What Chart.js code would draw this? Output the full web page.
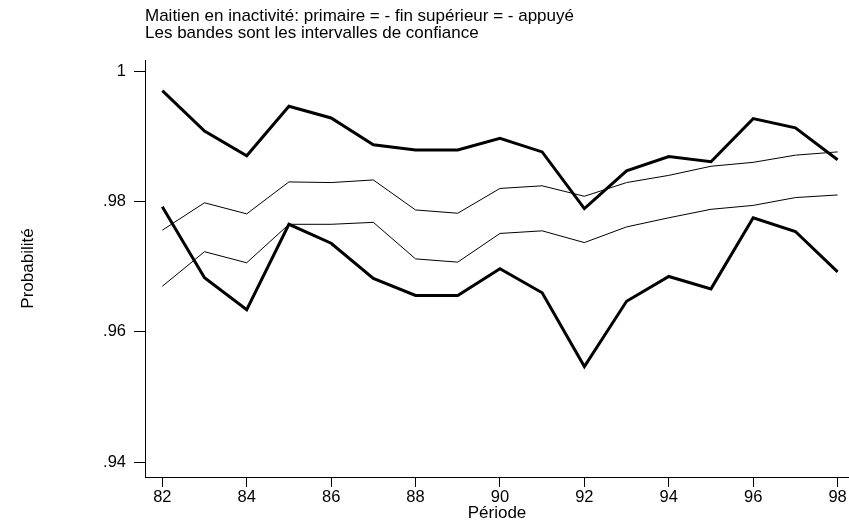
<!DOCTYPE html>
<html>
<head>
<meta charset="utf-8">
<script src="https://cdn.jsdelivr.net/npm/chart.js@4"></script>
<style>
html,body{margin:0;padding:0;background:#fff;}
#wrap{width:849px;height:524px;position:relative;}
</style>
</head>
<body>
<div id="wrap"><canvas id="c" width="849" height="524"></canvas></div>
<script>
const periods = [82,83,84,85,86,87,88,89,90,91,92,93,94,95,96,97,98];
const upperThick = [0.9970,0.9908,0.9870,0.9946,0.9928,0.9887,0.9879,0.9879,0.9897,0.9876,0.9789,0.9847,0.9869,0.9861,0.9927,0.9913,0.9864];
const upperThin  = [0.9756,0.9798,0.9781,0.9830,0.9829,0.9833,0.9787,0.9782,0.9820,0.9824,0.9808,0.9829,0.9840,0.9854,0.9860,0.9871,0.9876];
const lowerThin  = [0.9670,0.9723,0.9706,0.9765,0.9765,0.9768,0.9712,0.9707,0.9751,0.9755,0.9737,0.9761,0.9775,0.9788,0.9794,0.9806,0.9810];
const lowerThick = [0.9792,0.9683,0.9634,0.9765,0.9736,0.9682,0.9656,0.9656,0.9697,0.9660,0.9547,0.9647,0.9685,0.9666,0.9775,0.9754,0.9692];
const xTicks = [82,84,86,88,90,92,94,96,98];
const yTicks = [0.94,0.96,0.98,1];
const titleLines = ["Maitien en inactivité: primaire = - fin supérieur = - appuyé","Les bandes sont les intervalles de confiance"];

const FONT = "'Liberation Sans', Arial, Helvetica, sans-serif";
Chart.defaults.font.family = FONT;
Chart.defaults.color = '#000';

function toPts(arr){ return periods.map((p,i)=>({x:p,y:arr[i]})); }
function ds(arr,w){ return {data:toPts(arr),borderColor:'#000',borderWidth:w,pointRadius:0,tension:0,fill:false,borderJoinStyle:'miter'}; }

const titlePlugin = {
  id:'topTitle',
  afterDraw(chart){
    const ctx = chart.ctx;
    ctx.save();
    ctx.fillStyle = '#000';
    ctx.font = "17px " + FONT;
    ctx.textAlign = 'left';
    ctx.textBaseline = 'alphabetic';
    ctx.fillText(titleLines[0], 145, 21);
    ctx.fillText(titleLines[1], 145, 38);
    ctx.restore();
  }
};

new Chart(document.getElementById('c'), {
  type:'line',
  data:{datasets:[ds(upperThick,3),ds(upperThin,1),ds(lowerThin,1),ds(lowerThick,3)]},
  options:{
    responsive:false,
    animation:false,
    layout:{padding:{top:60,left:0,right:0,bottom:0}},
    plugins:{legend:{display:false},title:{display:false},tooltip:{enabled:false}},
    scales:{
      x:{
        type:'linear', min:81.59, max:98.27,
        afterBuildTicks(s){ s.ticks = xTicks.map(v=>({value:v})); },
        afterFit(s){ s.height = 47; },
        grid:{drawOnChartArea:false,drawTicks:true,tickLength:10,color:'#000',lineWidth:1},
        border:{display:true,color:'#000',width:1},
        ticks:{color:'#000',font:{size:16.5},padding:1,maxRotation:0,autoSkip:false,callback:v=>String(v)},
        title:{display:true,text:'Période',color:'#000',font:{size:17},padding:{top:0,bottom:0}}
      },
      y:{
        type:'linear', min:0.93776, max:1.00169,
        afterBuildTicks(s){ s.ticks = yTicks.map(v=>({value:v})); },
        afterFit(s){ s.width = 145; },
        grid:{drawOnChartArea:false,drawTicks:true,tickLength:11,color:'#000',lineWidth:1},
        border:{display:true,color:'#000',width:1},
        ticks:{color:'#000',font:{size:16.5},padding:8,autoSkip:false,callback:v=>{const r=Math.round(v*100)/100; return r===1?'1':String(r).replace(/^0/,'');}},
        title:{display:true,text:'Probabilité',color:'#000',font:{size:17},padding:{top:18,bottom:0}}
      }
    }
  },
  plugins:[titlePlugin]
});
</script>
</body>
</html>
